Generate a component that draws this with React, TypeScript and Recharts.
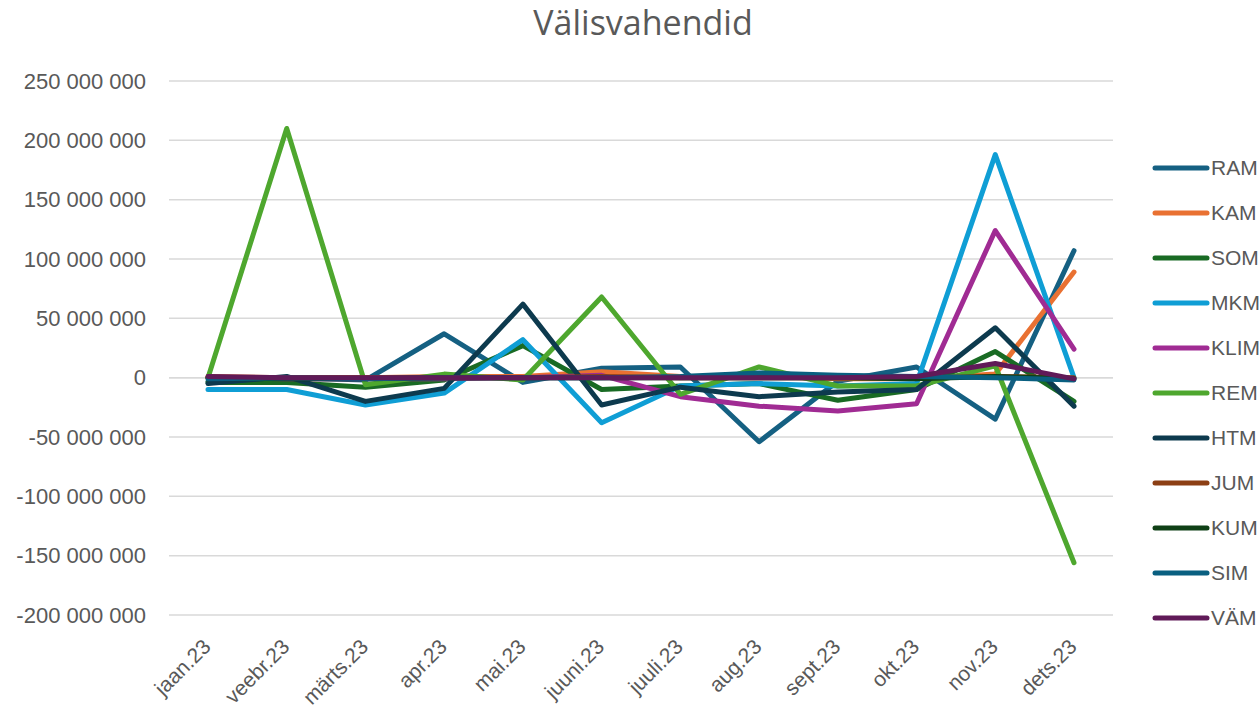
import { CartesianGrid, Line, LineChart, ReferenceLine, XAxis, YAxis } from "recharts"

// values in millions of euros
const months = ["jaan.23", "veebr.23", "märts.23", "apr.23", "mai.23", "juuni.23", "juuli.23", "aug.23", "sept.23", "okt.23", "nov.23", "dets.23"]

const RAM = [-3, 0, -2, 37, -4, 8, 9, -54, -3, 9, -35, 107]
const KAM = [1, 0, 0, 1, 1, 5, 1, 1, -1, -1, 3, 89]
const SOM = [-4, -4, -8, -2, 27, -10, -7, -5, -19, -10, 22, -20]
const MKM = [-10, -10, -23, -13, 32, -38, -7, -5, -7, -5, 188, 0]
const KLIM = [0, -1, -1, -1, 0, 2, -16, -24, -28, -22, 124, 24]
const REM = [0, 210, -6, 3, -2, 68, -14, 9, -7, -7, 10, -156]
const HTM = [-5, 1, -20, -9, 62, -23, -8, -16, -12, -10, 42, -24]
const JUM = [0, 0, 0, 0, 0, 1, 0, 0, 0, 0, 1, 0]
const KUM = [0, -1, -1, 0, 0, 0, 0, 0, 0, -1, 1, -1]
const SIM = [-1, 0, -1, 0, 0, 0, 1, 4, 2, 1, 0, -2]
const VAM = [1, 0, 0, 0, 0, 0, 0, 0, 0, 1, 12, -1]

const yTicks = [-200, -150, -100, -50, 0, 50, 100, 150, 200, 250].map((v) => v * 1e6)

const series = [
  { key: "RAM", values: RAM, color: "#156082" },
  { key: "KAM", values: KAM, color: "#E97132" },
  { key: "SOM", values: SOM, color: "#196B24" },
  { key: "MKM", values: MKM, color: "#0F9ED5" },
  { key: "KLIM", values: KLIM, color: "#A02B93" },
  { key: "REM", values: REM, color: "#4EA72E" },
  { key: "HTM", values: HTM, color: "#0D3A4E" },
  { key: "JUM", values: JUM, color: "#8C3F14" },
  { key: "KUM", values: KUM, color: "#0F4016" },
  { key: "SIM", values: SIM, color: "#095F80" },
  { key: "VÄM", values: VAM, color: "#601A58" },
]

const data = months.map((m, i) => {
  const row: Record<string, string | number> = { month: m }
  series.forEach((s) => {
    row[s.key] = s.values[i] * 1e6
  })
  return row
})

const textColor = "#595959"
const font = "'Liberation Sans', Arial, sans-serif"

const fmt = (v: number) => {
  const sign = v < 0 ? "-" : ""
  return sign + Math.abs(v).toString().replace(/\B(?=(\d{3})+(?!\d))/g, " ")
}

const MonthTick = (props: any) => {
  const { x, y, payload } = props
  const px = x + 4
  const py = y + 33
  return (
    <text x={px} y={py} transform={`rotate(-45 ${px} ${py})`} textAnchor="end" fill={textColor} fontSize={21} fontFamily={font}>
      {payload.value}
    </text>
  )
}

export default function App() {
  return (
    <div style={{ position: "absolute", left: 0, top: 0, width: 1260, height: 708, background: "#fff", overflow: "hidden" }}>
      <div
        style={{
          position: "absolute",
          left: 0,
          width: 1286,
          top: 5,
          textAlign: "center",
          fontFamily: "'Open Sans', sans-serif",
          fontSize: 34,
          lineHeight: 1,
          color: textColor,
        }}
      >
        Välisvahendid
      </div>
      <LineChart width={1260} height={708} data={data} margin={{ top: 81, right: 147, bottom: 0, left: 0 }}>
        <CartesianGrid horizontal vertical={false} stroke="#d9d9d9" strokeWidth={1.5} />
        <XAxis
          dataKey="month"
          height={93}
          padding={{ left: 39, right: 39 }}
          axisLine={false}
          tickLine={false}
          tickSize={0}
          tickMargin={0}
          interval={0}
          tick={<MonthTick />}
        />
        <YAxis
          width={169}
          domain={[-200e6, 250e6]}
          ticks={yTicks}
          axisLine={false}
          tickLine={false}
          tickSize={0}
          tickMargin={23}
          tickFormatter={fmt}
          tick={{ fill: textColor, fontSize: 22, fontFamily: font }}
        />
        <ReferenceLine y={0} stroke="#d9d9d9" strokeWidth={1.5} />
        {series.map((s) => (
          <Line
            key={s.key}
            type="linear"
            dataKey={s.key}
            stroke={s.color}
            strokeWidth={5}
            strokeLinecap="round"
            strokeLinejoin="round"
            dot={false}
            activeDot={false}
            isAnimationActive={false}
          />
        ))}
      </LineChart>
      <div style={{ position: "absolute", left: 1151, top: 145 }}>
        {series.map((s) => (
          <div key={s.key} style={{ height: 45, display: "flex", alignItems: "center" }}>
            <svg width={60} height={10} style={{ display: "block" }}>
              <line x1={4} y1={5} x2={56} y2={5} stroke={s.color} strokeWidth={5} strokeLinecap="round" />
            </svg>
            <span style={{ fontFamily: font, fontSize: 21, color: textColor, lineHeight: 1 }}>{s.key}</span>
          </div>
        ))}
      </div>
    </div>
  )
}
